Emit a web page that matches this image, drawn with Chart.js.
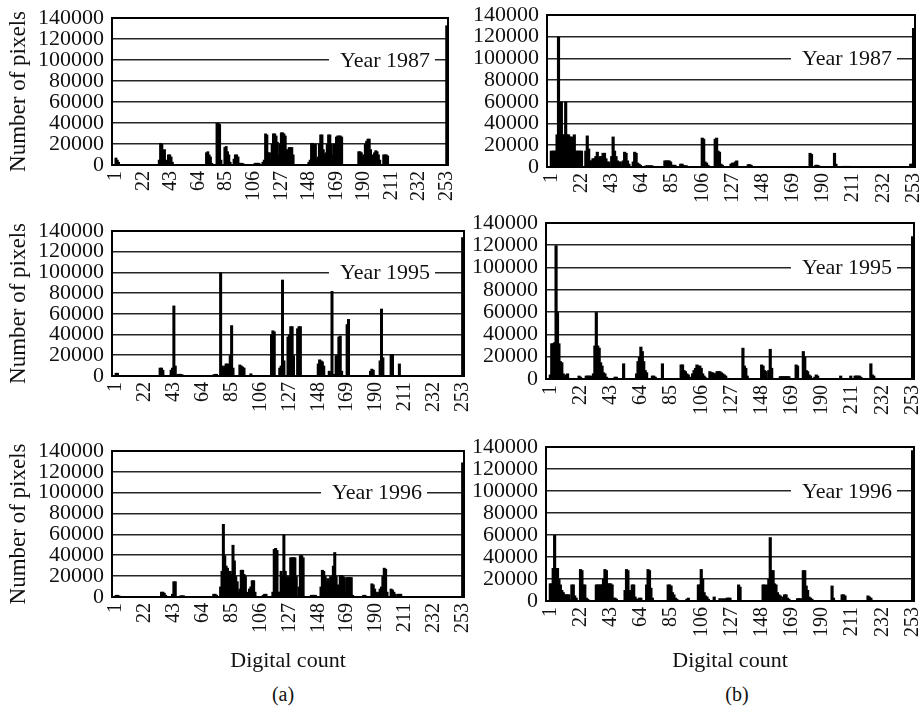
<!DOCTYPE html>
<html>
<head>
<meta charset="utf-8">
<title>Histograms of digital counts</title>
<script src="https://cdn.jsdelivr.net/npm/chart.js@4.4.1/dist/chart.umd.min.js"></script>
<style>
  body { margin: 0; background: #fff; }
  #figure { position: relative; width: 922px; height: 708px; overflow: hidden; background: #fff; }
  #figure canvas { position: absolute; }
  .cap { position: absolute; top: 683px; width: 60px; line-height: 24px; text-align: center;
         font: 20px "Liberation Serif", serif; color: #111; }
</style>
</head>
<body>
<div id="figure">
  <div class="cap" style="left:253px">(a)</div>
  <div class="cap" style="left:707px">(b)</div>
</div>
<script>
// tick labels
const countTicks = [1, 22, 43, 64, 85, 106, 127, 148, 169, 190, 211, 232, 253];
const pixelTicks = [0, 20000, 40000, 60000, 80000, 100000, 120000, 140000];

// (a) Year 1987
const a1987Bins = [1, 2, 3,
  34, 35, 36, 37, 38, 39, 40, 41, 42, 43, 44,
  70, 71, 72, 73, 74,
  78, 79, 80, 81,
  84, 85, 86, 87, 88,
  91, 92, 93, 94, 95, 96, 97, 98,
  107, 108, 109, 110,
  113, 114, 115, 116, 117, 118, 119, 120, 121, 122, 123, 124,
  125, 126, 127, 128, 129, 130, 131, 132, 133, 134, 135, 136,
  148, 149, 150, 151, 152, 153, 154, 155, 156, 157, 158, 159,
  160, 161, 162, 163, 164, 165, 166, 167, 168, 169, 170, 171, 172, 173,
  186, 187, 188, 189, 190, 191, 192, 193, 194, 195, 196,
  197, 198, 199, 200, 201, 202, 205, 206, 207, 208,
  253];
const a1987Pixels = [7000, 5000, 3000,
  5000, 21000, 20000, 14000, 15000, 5000, 3000, 10000, 10000, 8000, 3000,
  12000, 13000, 10000, 8000, 2000,
  40000, 40000, 39000, 5000,
  17000, 18000, 13000, 10000, 3000,
  6000, 10000, 10000, 8000, 2000, 2000, 2000, 1500,
  2000, 2000, 2000, 2000,
  3000, 5000, 30000, 29000, 12000, 12000, 6000, 20000, 30000, 30000, 28000, 22000,
  10000, 20000, 31000, 31000, 30000, 28000, 15000, 10000, 17000, 17000, 17000, 10000,
  3000, 5000, 21000, 21000, 20000, 20000, 5000, 8000, 20000, 29000, 29000, 15000,
  10000, 12000, 20000, 29000, 29000, 20000, 10000, 20000, 10000, 27000, 28000, 28000, 28000, 27000,
  13000, 13000, 12000, 8000, 10000, 20000, 23000, 25000, 25000, 15000, 8000,
  10000, 12000, 14000, 13000, 10000, 5000, 10000, 10000, 10000, 9000,
  133000];

// (b) Year 1987
const b1987Bins = [1, 2, 3, 4, 5, 6, 7, 8, 9, 10, 11, 12, 13, 14, 15, 16, 17, 18, 19, 20, 21, 22,
  25, 26, 27, 28, 29, 30, 31, 32, 33, 34, 35, 36, 37, 38, 39, 40, 41,
  43, 44, 45, 46, 47, 48, 49, 51, 52, 53, 54, 55,
  58, 59, 60, 61, 62, 63, 67, 68, 69, 70, 71,
  80, 81, 82, 83, 84, 85, 86, 87, 91, 92, 93, 94, 95,
  106, 107, 108, 109, 110, 115, 116, 117, 118, 119, 120,
  126, 127, 128, 129, 130, 138, 139, 140,
  145, 150, 155, 160, 165, 167,
  181, 182, 185, 186, 187, 198, 199, 204, 206, 208, 224,
  251, 252, 253];
const b1987Pixels = [15000, 15000, 15000, 15000, 30000, 120000, 60000, 60000, 30000, 30000, 60000, 30000, 30000, 28000, 28000, 15000, 30000, 15000, 15000, 15000, 15000, 15000,
  15000, 29000, 17000, 6000, 6000, 8000, 8000, 10000, 14000, 8000, 10000, 10000, 13000, 13000, 8000, 5000, 5000,
  10000, 28000, 15000, 10000, 6000, 5000, 5000, 6000, 14000, 13000, 6000, 3000,
  5000, 14000, 13000, 4000, 3000, 2000, 1500, 1500, 1500, 1500, 1500,
  6000, 6000, 6000, 6000, 5000, 2000, 2000, 2000, 3000, 3000, 1500, 1500, 1500,
  27000, 26000, 5000, 4000, 2000, 26000, 27000, 15000, 14000, 3000, 2000,
  3000, 4000, 2000, 5000, 6000, 2500, 2500, 2000,
  800, 800, 800, 800, 800, 800,
  13000, 12000, 2000, 2000, 1500, 13000, 3000, 1000, 1000, 1000, 800,
  3000, 3000, 128000];

// (a) Year 1995
const a1995Bins = [1, 2,
  33, 34, 35, 41, 42, 43, 44, 46, 47, 48, 49,
  72, 73, 74, 77, 78, 79, 80, 81, 82, 83, 84, 85, 86,
  91, 92, 93, 94, 99,
  114, 115, 116, 120, 121, 122, 123,
  126, 127, 128, 129, 130, 133, 134, 135,
  148, 149, 150, 151, 152, 156, 157, 158, 159,
  161, 162, 163, 164, 165, 169, 170,
  186, 187, 188, 193, 194, 195, 201, 202, 207,
  253];
const a1995Pixels = [3000, 3000,
  8000, 8000, 6000, 6000, 8000, 68000, 10000, 2000, 2000, 2000, 1500,
  1500, 2000, 2000, 100000, 10000, 8000, 10000, 12000, 12000, 10000, 20000, 49000, 8000,
  11000, 10000, 9000, 8000, 2500,
  40000, 44000, 43000, 8000, 10000, 93000, 15000,
  38000, 40000, 48000, 48000, 20000, 46000, 48000, 48000,
  12000, 16000, 15000, 14000, 10000, 5000, 3000, 82000, 2000,
  20000, 20000, 38000, 39000, 5000, 50000, 55000,
  5000, 7000, 6000, 15000, 65000, 18000, 21000, 21000, 12000,
  134000];

// (b) Year 1995
const b1995Bins = [1, 2, 3, 4, 5, 6, 7, 8, 9, 10, 11, 12, 13, 14,
  21, 22, 26, 27, 28, 29,
  31, 32, 33, 34, 35, 36, 37, 38, 39, 40, 41,
  46, 47, 52, 61, 62, 63, 64, 65, 66, 67, 68,
  72, 73, 74, 79,
  92, 93, 94, 95, 96, 97, 98,
  100, 101, 102, 103, 104, 105, 106, 107, 108, 109,
  112, 113, 114, 115, 116, 117, 118, 119, 120, 121, 122, 123, 124,
  135, 136, 137, 138, 148, 149, 150, 151, 153, 154, 155,
  161, 162, 163, 164, 165, 166, 167,
  172, 173, 177, 178, 179, 180, 181, 182, 183, 185, 186, 187,
  203, 210, 213, 214, 215, 216, 217, 218, 224, 225, 226, 227,
  253];
const b1995Pixels = [4000, 32000, 32000, 33000, 120000, 60000, 32000, 16000, 15000, 5000, 2000, 4000, 5000, 1000,
  3000, 2000, 3000, 3000, 3000, 3000,
  5000, 30000, 60000, 30000, 28000, 15000, 12000, 6000, 5000, 2000, 1000,
  2000, 2000, 14000, 5000, 16000, 20000, 29000, 25000, 16000, 8000, 6000,
  3000, 3000, 2000, 14000,
  13000, 13000, 8000, 7000, 5000, 4000, 2000,
  5000, 8000, 10000, 13000, 12000, 12000, 10000, 5000, 3000, 1500,
  7000, 6000, 6000, 5000, 5000, 7000, 7000, 7000, 6000, 5000, 4000, 3000, 1000,
  28000, 12000, 10000, 3000, 13000, 12000, 8000, 7000, 8000, 27000, 10000,
  2500, 2500, 2500, 2500, 2500, 2500, 2500,
  13000, 12000, 25000, 20000, 8000, 7000, 4000, 3000, 1000, 2000, 4000, 3000,
  3000, 3000, 3000, 3000, 3000, 3000, 2000, 1000, 14000, 4000, 3000, 1000,
  128000];

// (a) Year 1996
const a1996Bins = [1, 2, 3,
  34, 35, 36, 37, 42, 43, 44, 48, 49, 50,
  72, 73, 74, 77, 78, 79, 80, 81, 82, 83, 84, 85, 86, 87, 88, 89, 90,
  91, 92, 93, 94, 95, 96, 98, 99, 100, 101, 102,
  108, 109, 110, 115, 116, 117, 118, 119,
  120, 121, 122, 123, 124, 125, 126, 127, 128, 129, 130, 131, 132,
  134, 135, 136, 137, 143, 144, 145, 146,
  150, 151, 152, 153, 154, 155, 156, 157, 158, 159, 160, 161,
  162, 163, 164, 165, 166, 167, 168, 169, 170, 171, 172, 173,
  181, 182, 187, 188, 189, 190, 191, 192, 193, 194, 195, 196, 197, 198,
  201, 202, 203, 204, 206, 207, 208,
  253];
const a1996Pixels = [2000, 2000, 1500,
  5000, 5000, 4000, 2000, 3000, 15000, 15000, 1500, 1500, 1500,
  3000, 3000, 2000, 10000, 25000, 70000, 40000, 30000, 28000, 20000, 25000, 22000, 50000, 35000, 20000, 15000, 5000,
  8000, 26000, 26000, 22000, 20000, 5000, 8000, 10000, 16000, 16000, 5000,
  2000, 3000, 3000, 5000, 46000, 47000, 45000, 5000,
  5000, 25000, 20000, 60000, 25000, 20000, 15000, 20000, 38000, 38000, 38000, 38000, 20000,
  10000, 40000, 40000, 38000, 2000, 2000, 2000, 2000,
  10000, 26000, 25000, 20000, 15000, 18000, 15000, 20000, 15000, 30000, 43000, 20000,
  12000, 10000, 21000, 21000, 20000, 19000, 5000, 19000, 19000, 19000, 19000, 2000,
  2000, 2000, 13000, 12000, 8000, 5000, 3000, 5000, 8000, 10000, 20000, 28000, 27000, 5000,
  8000, 7000, 5000, 3000, 3000, 3000, 3000,
  129000];

// (b) Year 1996
const b1996Bins = [1, 2, 3, 4, 5, 6, 7, 8, 9, 10, 11, 12, 13, 14, 16, 17, 18, 19,
  22, 23, 24, 25, 26, 27, 28,
  33, 34, 35, 36, 37, 38, 39, 40, 41, 42, 43, 44, 45, 46, 47,
  53, 54, 55, 56, 57, 58, 59, 60, 61, 62, 63, 64,
  68, 69, 70, 71, 72,
  83, 84, 85, 86, 87, 88, 89, 90, 96, 97,
  104, 105, 106, 107, 108, 109, 110, 111, 115,
  119, 121, 123, 124, 125, 126, 132, 133,
  149, 150, 151, 152, 153, 154, 155, 156, 157, 158, 159, 160, 161,
  163, 164, 165, 166, 167, 173, 174, 175,
  177, 178, 179, 180, 181, 182, 183,
  197, 198, 204, 205, 206, 222, 223, 224, 225,
  253];
const b1996Pixels = [16000, 16000, 30000, 60000, 30000, 30000, 20000, 15000, 10000, 8000, 6000, 6000, 6000, 6000, 15000, 15000, 5000, 3000,
  29000, 28000, 15000, 15000, 3000, 2000, 1000,
  15000, 15000, 15000, 15000, 15000, 20000, 29000, 28000, 16000, 16000, 16000, 15000, 3000, 3000, 2000,
  10000, 29000, 28000, 10000, 8000, 15000, 15000, 4000, 2000, 2000, 3000, 3000,
  15000, 29000, 28000, 12000, 3000,
  15000, 15000, 14000, 8000, 6000, 3000, 2000, 1000, 2000, 3000,
  15000, 15000, 29000, 20000, 8000, 5000, 4000, 2000, 4000,
  2500, 2500, 2500, 3000, 3000, 3000, 15000, 13000,
  15000, 15000, 14000, 15000, 20000, 58000, 28000, 28000, 16000, 15000, 8000, 6000, 5000,
  4000, 6000, 6000, 3000, 2000, 2500, 2500, 2500,
  28000, 28000, 14000, 10000, 4000, 3000, 2000,
  14000, 3000, 6000, 6000, 5000, 5000, 4000, 3000, 1000,
  137000];

// where each panel's plot box sits on the page
const panels = [
  { bins: a1987Bins, pixels: a1987Pixels, year: 'Year 1987', colX: 0,   left: 112, right: 448, top: 18,  bottom: 165, tagAt: 318, yTitle: true,  xTitle: false },
  { bins: a1995Bins, pixels: a1995Pixels, year: 'Year 1995', colX: 0,   left: 112, right: 464, top: 231, bottom: 376, tagAt: 318, yTitle: true,  xTitle: false },
  { bins: a1996Bins, pixels: a1996Pixels, year: 'Year 1996', colX: 0,   left: 112, right: 464, top: 451, bottom: 597, tagAt: 310, yTitle: true,  xTitle: true },
  { bins: b1987Bins, pixels: b1987Pixels, year: 'Year 1987', colX: 460, left: 547, right: 915, top: 15,  bottom: 167, tagAt: 345, yTitle: false, xTitle: false },
  { bins: b1995Bins, pixels: b1995Pixels, year: 'Year 1995', colX: 460, left: 546, right: 914, top: 223, bottom: 379, tagAt: 346, yTitle: false, xTitle: false },
  { bins: b1996Bins, pixels: b1996Pixels, year: 'Year 1996', colX: 460, left: 546, right: 914, top: 447, bottom: 601, tagAt: 346, yTitle: false, xTitle: true }
];

Chart.defaults.font.family = '"Liberation Serif", "Times New Roman", serif';
Chart.defaults.color = '#111';

// top and right edges of the box
const frame = {
  id: 'frame',
  afterDraw(chart) {
    const { ctx, chartArea: a } = chart;
    ctx.save();
    ctx.strokeStyle = '#000';
    ctx.lineWidth = 2;
    ctx.beginPath();
    ctx.moveTo(a.left, a.top);
    ctx.lineTo(a.right, a.top);
    ctx.lineTo(a.right, a.bottom);
    ctx.stroke();
    ctx.restore();
  }
};

// "Year xxxx" written over the 100000 grid line
const yearTag = {
  id: 'yearTag',
  afterDraw(chart, args, opts) {
    const { ctx, chartArea, scales } = chart;
    const y = scales.y.getPixelForValue(100000);
    const x = chartArea.left + opts.at;
    ctx.save();
    ctx.font = '22px "Liberation Serif", serif';
    const w = ctx.measureText(opts.text).width;
    ctx.fillStyle = '#fff';
    ctx.fillRect(x - w - 11, y - 3, w + 16, 6);
    ctx.fillStyle = '#111';
    ctx.textAlign = 'right';
    ctx.textBaseline = 'middle';
    ctx.fillText(opts.text, x, y + 1);
    ctx.restore();
  }
};

const fig = document.getElementById('figure');

panels.forEach(p => {
  const cTop = p.top - 16;
  const xH = p.xTitle ? 680 - p.bottom : 44;
  const canvas = document.createElement('canvas');
  canvas.width = p.right - p.colX + 14;
  canvas.height = p.bottom - cTop + xH;
  canvas.style.left = p.colX + 'px';
  canvas.style.top = cTop + 'px';
  fig.appendChild(canvas);

  new Chart(canvas, {
    type: 'bar',
    data: {
      datasets: [{
        data: p.bins.map((b, i) => ({ x: b, y: p.pixels[i] })),
        backgroundColor: '#000',
        borderWidth: 0,
        barPercentage: 2.2,
        categoryPercentage: 1
      }]
    },
    options: {
      responsive: false,
      animation: false,
      devicePixelRatio: 1,
      layout: { padding: { top: 16, right: 14, left: 0, bottom: 0 } },
      plugins: {
        legend: { display: false },
        tooltip: { enabled: false },
        yearTag: { text: p.year, at: p.tagAt }
      },
      scales: {
        x: {
          type: 'linear',
          min: -2,
          max: 254,
          offset: false,
          grid: { display: false, drawTicks: false },
          border: { color: '#000', width: 2 },
          afterBuildTicks: s => { s.ticks = countTicks.map(v => ({ value: v })); },
          afterFit: s => { s.height = xH; s.paddingLeft = 0; s.paddingRight = 0; },
          ticks: {
            autoSkip: false,
            minRotation: 90,
            maxRotation: 90,
            padding: 6,
            font: { size: 20 },
            callback: v => String(v)
          },
          title: {
            display: p.xTitle,
            text: 'Digital count',
            font: { size: 22 },
            padding: { top: 0, bottom: 6 }
          }
        },
        y: {
          min: 0,
          max: 140000,
          grid: { color: 'rgba(0,0,0,0.85)', lineWidth: 1.6, drawTicks: false },
          border: { color: '#000', width: 2 },
          afterBuildTicks: s => { s.ticks = pixelTicks.map(v => ({ value: v })); },
          afterFit: s => { s.width = p.left - p.colX; s.paddingTop = 0; s.paddingBottom = 0; },
          ticks: {
            autoSkip: false,
            padding: 8,
            font: { size: 22 },
            callback: v => String(v)
          },
          title: {
            display: p.yTitle,
            text: 'Number of pixels',
            font: { size: 23 },
            padding: { top: 5, bottom: 0 }
          }
        }
      }
    },
    plugins: [frame, yearTag]
  });
});
</script>
</body>
</html>
